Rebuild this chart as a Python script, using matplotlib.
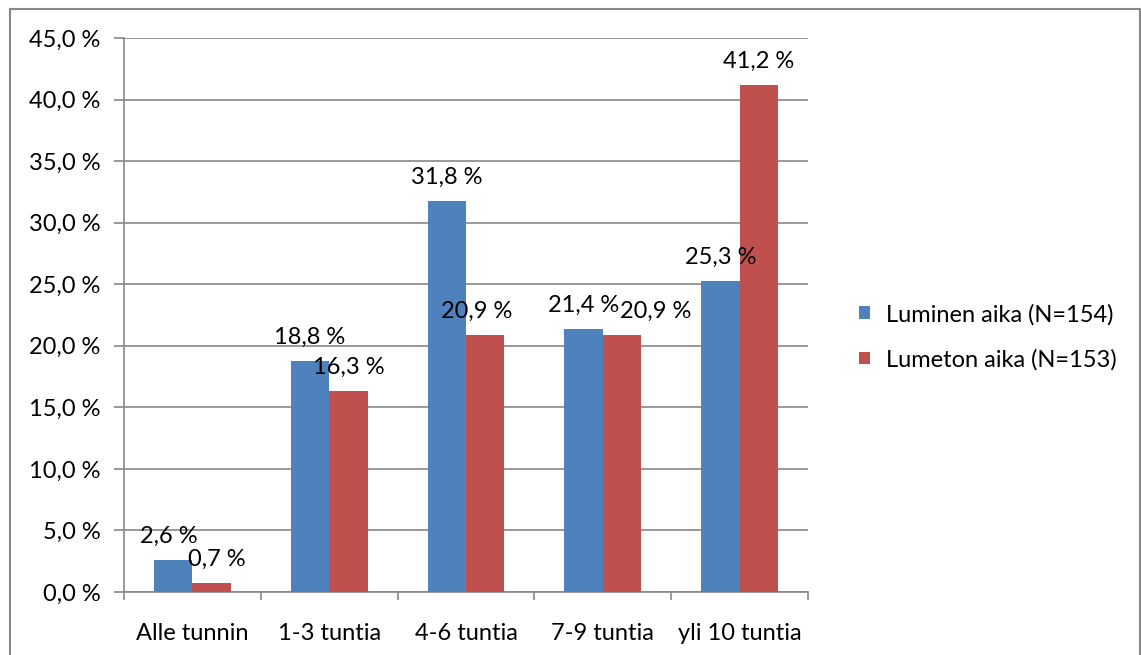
import matplotlib
matplotlib.use("Agg")
import numpy as np
import matplotlib.pyplot as plt
from matplotlib.patches import Rectangle

categories = ["Alle tunnin", "1-3 tuntia", "4-6 tuntia", "7-9 tuntia", "yli 10 tuntia"]
luminen = [2.6, 18.8, 31.8, 21.4, 25.3]
lumeton = [0.7, 16.3, 20.9, 20.9, 41.2]
series_names = ["Luminen aika (N=154)", "Lumeton aika (N=153)"]
yticks = np.arange(0, 50, 5)

plt.rcParams['font.family'] = ['Lato', 'DejaVu Sans']
plt.rcParams['font.size'] = 17

W, H = 1141, 655
fig = plt.figure(figsize=(W / 100, H / 100), dpi=100)
ax = fig.add_axes([124 / W, (H - 592) / H, (808 - 124) / W, (592 - 38) / H])

grey = "#878787"
blue = "#4F81BD"
red = "#C0504D"

x = np.arange(len(categories))
w = 0.28
b1 = ax.bar(x - w / 2, luminen, w, color=blue, label=series_names[0], zorder=3)
b2 = ax.bar(x + w / 2, lumeton, w, color=red, label=series_names[1], zorder=3)

def fmt(v):
    return f"{v:.1f} %".replace(".", ",")

# horizontal nudges (points) so neighbouring value labels don't collide
nudge = {(0, 0): -3, (1, 0): 4, (1, 2): -6, (1, 3): 24}

for s, bars in enumerate((b1, b2)):
    for i, rect in enumerate(bars):
        v = rect.get_height()
        ax.annotate(fmt(v), (rect.get_x() + rect.get_width() / 2, v),
                    xytext=(nudge.get((s, i), 0), 17), textcoords="offset points",
                    ha="center", va="center", zorder=4)

ax.set_xlim(-0.5, len(categories) - 0.5)
ax.set_ylim(0, 45)
ax.set_yticks(yticks)
ax.set_yticklabels([fmt(v) for v in yticks])
ax.yaxis.grid(True, color=grey, lw=1.2, zorder=0)

ax.set_xticks(x)
ax.set_xticklabels(categories)
ax.set_xticks(np.arange(-0.5, len(categories)), minor=True)
ax.tick_params(axis="x", which="major", length=0, pad=22)
ax.tick_params(axis="x", which="minor", length=6, width=1.2, color=grey, direction="out")
ax.tick_params(axis="y", length=7, width=1.2, color=grey, direction="out", pad=10)

for side in ("top", "right"):
    ax.spines[side].set_visible(False)
for side in ("left", "bottom"):
    ax.spines[side].set_color(grey)
    ax.spines[side].set_linewidth(1.2)

leg = fig.legend(handles=[b1, b2], loc="center left",
                 bbox_to_anchor=(838 / W, (H - 337) / H),
                 frameon=False, handlelength=0.45, handleheight=0.45,
                 handletextpad=0.7, labelspacing=1.0)

# chart border
fig.patches.append(Rectangle((10 / W, -0.02), (1140 - 10) / W, (H - 9) / H + 0.02,
                             transform=fig.transFigure, fill=False,
                             edgecolor="#888888", lw=1.5))

fig.savefig("out.png", dpi=100)
